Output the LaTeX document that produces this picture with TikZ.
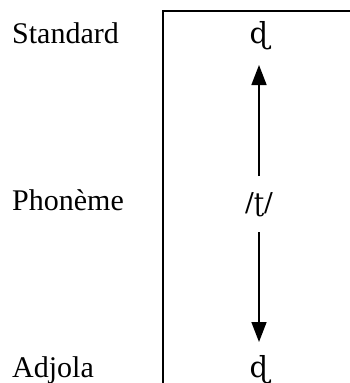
\documentclass[tikz,border=0pt]{standalone}
\usepackage{fontspec}
\setmainfont{Liberation Serif}
\newfontfamily\ipafont{DejaVu Serif}
\usetikzlibrary{arrows.meta}
\begin{document}
\begin{tikzpicture}[x=1pt,y=-1pt,
  lbl/.style={anchor=base west,inner sep=0pt,font=\fontsize{30}{33}\selectfont},
  sym/.style={anchor=base,inner sep=0pt,font=\ipafont\fontsize{29}{32}\selectfont},
  arr/.style={line width=1.6pt,-{Triangle[length=20pt,width=15pt]}},
  frame/.style={line width=1.8pt}]
\useasboundingbox (0,0) rectangle (349,383);
\draw[frame] (163,383) -- (163,11) -- (352,11);
\node[lbl] (std) at (12,43) {Standard};
\node[lbl] (pho) at (12,210) {Phonème};
\node[lbl] (adj) at (12,377) {Adjola};
\node[sym] (top) at (259,43) {ɖ};
\node[sym,font=\ipafont\fontsize{26}{30}\selectfont] (mid) at (259,211) {/ʈ/};
\node[sym] (bot) at (259,377) {ɖ};
\coordinate (mu) at (259,176);
\coordinate (md) at (259,232);
\coordinate (tu) at (259,65);
\coordinate (td) at (259,342);
\draw[arr] (mu) -- (tu);
\draw[arr] (md) -- (td);
\end{tikzpicture}
\end{document}
